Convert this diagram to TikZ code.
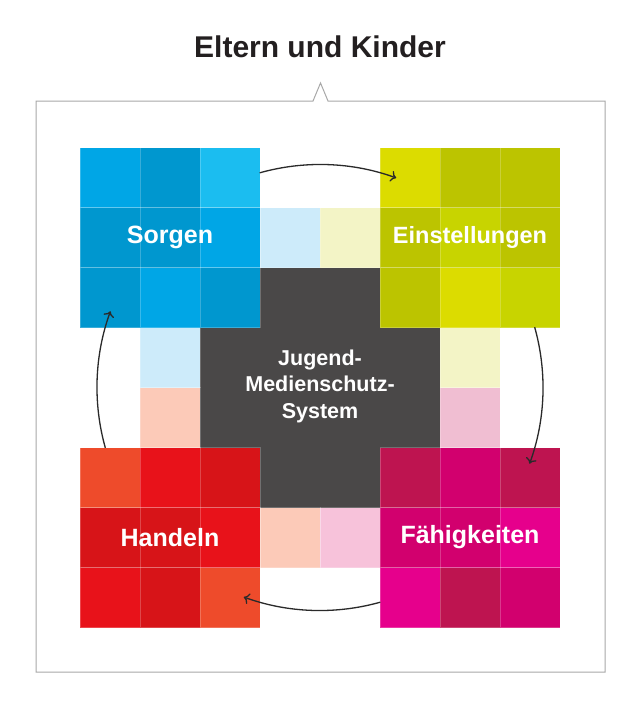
\documentclass[tikz,border=0pt]{standalone}
\usepackage{fontspec}
\setmainfont{Liberation Sans}
\usetikzlibrary{arrows.meta,calc}
\definecolor{darkc}{HTML}{4A4848}
\definecolor{titlec}{HTML}{231F20}
\definecolor{framec}{HTML}{A8A8A8}
\definecolor{arrc}{HTML}{2A2A2A}
% blues
\definecolor{bA}{HTML}{00A6E6}\definecolor{bB}{HTML}{0097CF}\definecolor{bC}{HTML}{1BBDF0}
% yellows
\definecolor{yA}{HTML}{DCDC00}\definecolor{yB}{HTML}{BCC400}\definecolor{yC}{HTML}{C8D400}
% reds
\definecolor{rA}{HTML}{EE4B2B}\definecolor{rB}{HTML}{E8121A}\definecolor{rC}{HTML}{D71418}
% magentas
\definecolor{mA}{HTML}{BE1450}\definecolor{mB}{HTML}{D2006E}\definecolor{mC}{HTML}{E6008C}
% light tiles
\definecolor{lblue}{HTML}{CDEBFA}\definecolor{lyel}{HTML}{F3F4C6}
\definecolor{lpink}{HTML}{F0BED2}\definecolor{lpeach}{HTML}{FCCAB8}\definecolor{lpink2}{HTML}{F7C2DA}
\newcommand\tile[3]{\filldraw[fill=#3,draw=white,draw opacity=0.22,line width=0.5pt] ({80+60*#1},{-147.5-60*#2}) rectangle ++(60,-60);}
\tikzset{
  lbl/.style={text=white,font=\fontsize{25}{30}\selectfont\bfseries,inner sep=0pt},
  sys/.style={text=white,font=\fontsize{21.5}{26.5}\selectfont\bfseries,align=center,inner sep=0pt},
  arr/.style={draw=arrc,line width=1.3pt,-{To[length=5.5pt,width=11pt]}},
  framestyle/.style={draw=framec,line width=1pt}
}
\begin{document}
\begin{tikzpicture}[x=1pt,y=1pt]
\useasboundingbox (0,0) rectangle (640,-712);
\fill[white] (0,0) rectangle (640,-712);
% title
\node[text=titlec,font=\fontsize{30}{36}\selectfont\bfseries] (title) at (320,-47) {Eltern und Kinder};
% frame with notch
\draw[framestyle] (313,-101) -- (36,-101) -- (36,-672) -- (605,-672) -- (605,-101) -- (328,-101) -- (320.5,-83) -- cycle;
\fill[white] (314.2,-101.6) -- (326.8,-101.6) -- (320.5,-86) -- cycle;
% dark centre
\fill[darkc] (200,-267.5) rectangle (440,-507.5);
% light tiles
\tile{3}{1}{lblue}\tile{1}{3}{lblue}
\tile{4}{1}{lyel}\tile{6}{3}{lyel}
\tile{6}{4}{lpink}\tile{4}{6}{lpink2}
\tile{1}{4}{lpeach}\tile{3}{6}{lpeach}
% Sorgen block
\tile{0}{0}{bA}\tile{1}{0}{bB}\tile{2}{0}{bC}
\tile{0}{1}{bB}\tile{1}{1}{bB}\tile{2}{1}{bA}
\tile{0}{2}{bB}\tile{1}{2}{bA}\tile{2}{2}{bB}
% Einstellungen block
\tile{5}{0}{yA}\tile{6}{0}{yB}\tile{7}{0}{yB}
\tile{5}{1}{yB}\tile{6}{1}{yC}\tile{7}{1}{yB}
\tile{5}{2}{yB}\tile{6}{2}{yA}\tile{7}{2}{yC}
% Handeln block
\tile{0}{5}{rA}\tile{1}{5}{rB}\tile{2}{5}{rC}
\tile{0}{6}{rC}\tile{1}{6}{rC}\tile{2}{6}{rB}
\tile{0}{7}{rB}\tile{1}{7}{rC}\tile{2}{7}{rA}
% Faehigkeiten block
\tile{5}{5}{mA}\tile{6}{5}{mB}\tile{7}{5}{mA}
\tile{5}{6}{mB}\tile{6}{6}{mB}\tile{7}{6}{mC}
\tile{5}{7}{mC}\tile{6}{7}{mA}\tile{7}{7}{mB}
% labels
\node[lbl] (sorgen) at (170,-237.5) {Sorgen};
\node[lbl] (einst) at (470,-237.5) {\fontsize{23.5}{28}\selectfont Einstellungen};
\node[lbl] (handeln) at (170,-537.5) {Handeln};
\node[lbl] (faehig) at (470,-537.5) {Fähigkeiten};
\node[sys] (system) at (320,-386) {Jugend-\\Medienschutz-\\System};
% cycle arrows
\coordinate (c) at (320,-387.5);
\coordinate (s1) at ($(c)+(105.7:223)$);
\coordinate (s2) at ($(c)+(15.7:223)$);
\coordinate (s3) at ($(c)+(-74.3:223)$);
\coordinate (s4) at ($(c)+(195.7:223)$);
\draw[arr] (s1) arc[start angle=105.7,end angle=70,radius=223];
\draw[arr] (s2) arc[start angle=15.7,end angle=-20,radius=223];
\draw[arr] (s3) arc[start angle=-74.3,end angle=-110,radius=223];
\draw[arr] (s4) arc[start angle=195.7,end angle=160,radius=223];
\end{tikzpicture}
\end{document}
